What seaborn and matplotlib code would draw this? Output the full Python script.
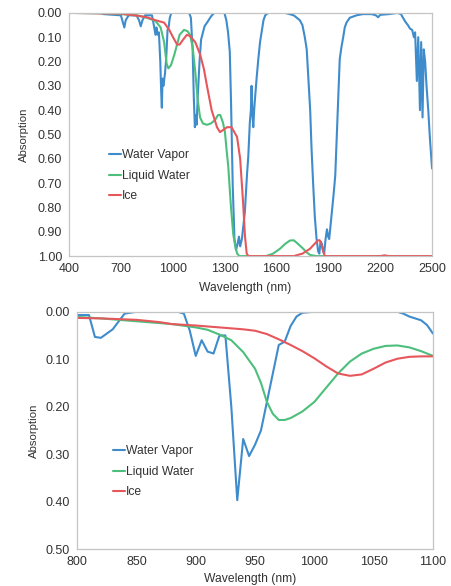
import matplotlib
matplotlib.use("Agg")
import matplotlib.pyplot as plt
import seaborn as sns
import numpy as np

# ==============================================
# Data
# ==============================================

# Top panel: full range 400-2500 nm
vapor_wl_full = [400, 580, 600, 700, 712, 720, 728, 745, 790, 805,
                 815, 825, 840, 880, 893, 900, 906, 912, 920, 928,
                 933, 937, 941, 946, 955, 962, 970, 976, 983, 992,
                 1000, 1050, 1095, 1105, 1115, 1122, 1128, 1133, 1138, 1145,
                 1155, 1164, 1184, 1203, 1222, 1240, 1270, 1299, 1310, 1320,
                 1330, 1337, 1347, 1357, 1366, 1375, 1383, 1390, 1400, 1417,
                 1430, 1437, 1446, 1452, 1456, 1461, 1466, 1471, 1475, 1485,
                 1495, 1505, 1514, 1525, 1535, 1552, 1600, 1650, 1700, 1735,
                 1750, 1764, 1775, 1784, 1795, 1803, 1812, 1822, 1832, 1841,
                 1848, 1855, 1863, 1870, 1876, 1884, 1892, 1899, 1905, 1912,
                 1920, 1930, 1940, 1951, 1960, 1966, 1976, 1986, 1995, 2005,
                 2024, 2063, 2100, 2150, 2175, 2188, 2200, 2250, 2300, 2320,
                 2344, 2360, 2373, 2385, 2395, 2402, 2412, 2420, 2430, 2437,
                 2445, 2452, 2460, 2468, 2478, 2488, 2500]
vapor_abs_full = [0.0, 0.0, 0.005, 0.01, 0.04, 0.06, 0.03, 0.01, 0.01, 0.03,
                  0.055, 0.03, 0.01, 0.01, 0.06, 0.09, 0.06, 0.09, 0.08, 0.20,
                  0.32, 0.39, 0.27, 0.30, 0.25, 0.19, 0.07, 0.06, 0.02, 0.0,
                  0.0, 0.0, 0.0, 0.02, 0.15, 0.35, 0.47, 0.42, 0.46, 0.34,
                  0.20, 0.11, 0.055, 0.035, 0.014, 0.0, 0.0, 0.0, 0.03, 0.08,
                  0.16, 0.36, 0.71, 0.93, 0.975, 0.95, 0.92, 0.96, 0.93, 0.82,
                  0.66, 0.59, 0.45, 0.40, 0.30, 0.42, 0.47, 0.40, 0.36, 0.27,
                  0.19, 0.12, 0.08, 0.03, 0.01, 0.0, 0.0, 0.0, 0.01, 0.03,
                  0.05, 0.10, 0.15, 0.26, 0.40, 0.56, 0.70, 0.84, 0.93, 0.98,
                  0.99, 0.94, 0.95, 0.98, 0.99, 0.93, 0.89, 0.92, 0.93, 0.88,
                  0.82, 0.75, 0.67, 0.47, 0.30, 0.19, 0.14, 0.10, 0.06, 0.04,
                  0.02, 0.01, 0.005, 0.005, 0.01, 0.018, 0.008, 0.005, 0.0, 0.005,
                  0.035, 0.05, 0.065, 0.07, 0.10, 0.08, 0.28, 0.10, 0.40, 0.12,
                  0.43, 0.15, 0.20, 0.30, 0.40, 0.52, 0.64]

liquid_wl_full = [400, 600, 700, 800, 850, 900, 930, 950, 965, 975,
                  990, 1010, 1040, 1065, 1085, 1100, 1115, 1130, 1145, 1158,
                  1175, 1198, 1220, 1245, 1262, 1275, 1290, 1302, 1311, 1321,
                  1337, 1350, 1362, 1373, 1385, 1540, 1580, 1620, 1650, 1678,
                  1700, 1717, 1740, 1755, 1775, 1794, 1830, 2500]
liquid_abs_full = [0.0, 0.002, 0.005, 0.011, 0.02, 0.033, 0.06, 0.12, 0.21, 0.228,
                   0.215, 0.17, 0.09, 0.07, 0.075, 0.09, 0.14, 0.24, 0.36, 0.43,
                   0.455, 0.46, 0.455, 0.44, 0.42, 0.42, 0.45, 0.49, 0.56, 0.63,
                   0.80, 0.91, 0.96, 0.99, 1.0, 1.0, 0.99, 0.97, 0.95, 0.936,
                   0.935, 0.945, 0.96, 0.97, 0.985, 0.995, 1.0, 1.0]

ice_wl_full = [400, 700, 800, 850, 900, 950, 980, 1000, 1025, 1040,
               1060, 1082, 1100, 1130, 1158, 1180, 1198, 1225, 1256, 1273,
               1295, 1314, 1340, 1372, 1390, 1407, 1418, 1428, 1438, 1700,
               1750, 1794, 1820, 1841, 1850, 1860, 1870, 1880, 2200, 2225,
               2250, 2500]
ice_abs_full = [0.0, 0.003, 0.012, 0.018, 0.03, 0.04, 0.07, 0.098, 0.13, 0.13,
                0.11, 0.09, 0.095, 0.12, 0.17, 0.23, 0.30, 0.40, 0.47, 0.49,
                0.48, 0.47, 0.47, 0.51, 0.60, 0.78, 0.92, 0.99, 1.0, 1.0,
                0.99, 0.97, 0.95, 0.935, 0.935, 0.95, 0.98, 1.0, 1.0, 0.997,
                1.0, 1.0]

# Bottom panel: zoom on 800-1100 nm
vapor_wl_zoom = [800, 810, 815, 820, 830, 840, 850, 885, 890, 895,
                 900, 905, 910, 915, 920, 925, 930, 935, 940, 945,
                 950, 955, 960, 965, 970, 975, 980, 985, 990, 1000,
                 1070, 1075, 1080, 1090, 1095, 1100]
vapor_abs_zoom = [0.007, 0.007, 0.053, 0.055, 0.037, 0.004, 0.0, 0.0, 0.004, 0.04,
                  0.093, 0.06, 0.084, 0.088, 0.05, 0.05, 0.20, 0.397, 0.268, 0.304,
                  0.28, 0.25, 0.19, 0.13, 0.07, 0.063, 0.03, 0.01, 0.002, 0.0,
                  0.0, 0.004, 0.01, 0.018, 0.028, 0.046]

liquid_wl_zoom = [800, 820, 850, 880, 900, 910, 920, 930, 940, 950,
                  955, 960, 965, 970, 975, 980, 990, 1000, 1010, 1020,
                  1030, 1040, 1050, 1060, 1070, 1080, 1090, 1100]
liquid_abs_zoom = [0.011, 0.014, 0.02, 0.026, 0.033, 0.038, 0.048, 0.06, 0.085, 0.12,
                   0.15, 0.19, 0.215, 0.228, 0.228, 0.224, 0.21, 0.19, 0.16, 0.13,
                   0.105, 0.088, 0.078, 0.072, 0.071, 0.075, 0.083, 0.093]

ice_wl_zoom = [800, 820, 850, 870, 880, 900, 920, 940, 950, 960,
               970, 980, 990, 1000, 1010, 1020, 1030, 1040, 1050, 1060,
               1070, 1080, 1090, 1100]
ice_abs_zoom = [0.013, 0.014, 0.017, 0.022, 0.026, 0.029, 0.033, 0.037, 0.04, 0.047,
                0.058, 0.07, 0.083, 0.098, 0.115, 0.13, 0.135, 0.132, 0.12, 0.107,
                0.099, 0.095, 0.094, 0.094]

labels = ["Water Vapor", "Liquid Water", "Ice"]
colors = ["#3f8ccc", "#4dbf7c", "#e6575c"]

# ==============================================
# Plot
# ==============================================

sns.set_style("white")
plt.rcParams["font.family"] = ["Liberation Sans", "DejaVu Sans"]

fig = plt.figure(figsize=(4.51, 5.86), dpi=100)
ax1 = fig.add_axes([0.153, 0.563, 0.805, 0.415])
ax2 = fig.add_axes([0.171, 0.063, 0.789, 0.405])

top_series = [(vapor_wl_full, vapor_abs_full), (liquid_wl_full, liquid_abs_full),
              (ice_wl_full, ice_abs_full)]
bottom_series = [(vapor_wl_zoom, vapor_abs_zoom), (liquid_wl_zoom, liquid_abs_zoom),
                 (ice_wl_zoom, ice_abs_zoom)]


def style_axes(ax, xticks, yticks, xlim, ylim, ypad):
    ax.set_xlim(*xlim)
    ax.set_ylim(ylim[1], ylim[0])  # inverted: 0 at top
    ax.set_xticks(xticks)
    ax.set_yticks(yticks)
    ax.set_yticklabels([f"{v:.2f}" for v in yticks])
    for sp in ax.spines.values():
        sp.set_color("#c4c4c4")
        sp.set_linewidth(0.9)
    ax.tick_params(axis="both", direction="out", length=3, width=0.8,
                   color="#c4c4c4", labelsize=9, labelcolor="#333333", pad=2)
    ax.set_xlabel("Wavelength (nm)", fontsize=8.7, color="#333333")
    ax.set_ylabel("Absorption", fontsize=8.2, color="#333333", labelpad=ypad)
    leg = ax.legend(loc="center left", frameon=False, fontsize=8.7,
                    handlelength=1.0, handletextpad=0.1, labelspacing=0.7)
    for t in leg.get_texts():
        t.set_color("#333333")
    return leg


for (x, y), lab, c in zip(top_series, labels, colors):
    sns.lineplot(x=x, y=y, ax=ax1, color=c, linewidth=1.5, label=lab)
leg1 = style_axes(ax1, [400, 700, 1000, 1300, 1600, 1900, 2200, 2500],
                  np.round(np.arange(0, 1.01, 0.1), 2), (400, 2500), (0, 1.0),
                  ypad=6)
leg1.set_bbox_to_anchor((0.08, 0.33))

for (x, y), lab, c in zip(bottom_series, labels, colors):
    sns.lineplot(x=x, y=y, ax=ax2, color=c, linewidth=1.5, label=lab)
leg2 = style_axes(ax2, [800, 850, 900, 950, 1000, 1050, 1100],
                  np.round(np.arange(0, 0.51, 0.1), 2), (800, 1100), (0, 0.5),
                  ypad=5)
leg2.set_bbox_to_anchor((0.07, 0.325))

# x labels sit slightly left of centre, like the reference
ax1.xaxis.set_label_coords(0.485, -0.108)
ax2.xaxis.set_label_coords(0.485, -0.10)

fig.savefig("out.png", dpi=100)
